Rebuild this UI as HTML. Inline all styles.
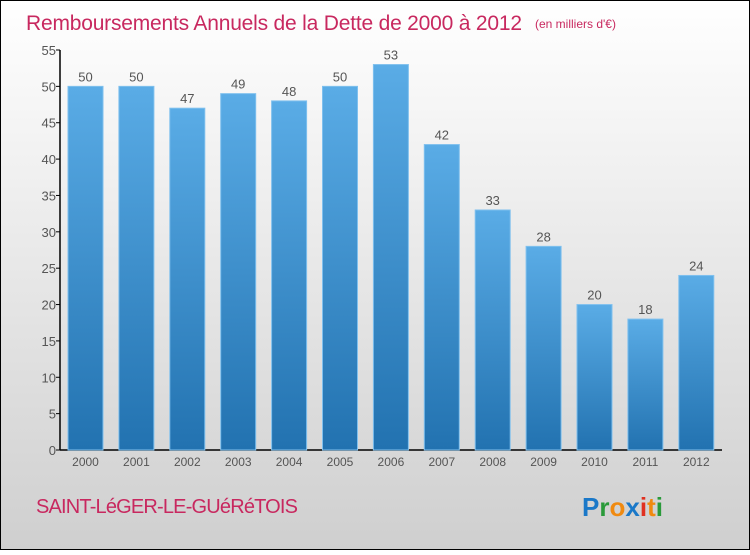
<!DOCTYPE html>
<html><head><meta charset="utf-8"><style>
body{margin:0;}
#wrap{width:750px;height:550px;position:relative;}
svg text{font-family:"Liberation Sans",sans-serif;}
</style></head><body>
<div id="wrap">
<svg id="chart" width="750" height="550" viewBox="0 0 750 550">
<defs>
<linearGradient id="bg" x1="0" y1="0" x2="0" y2="1"><stop offset="0" stop-color="#ffffff"/><stop offset="1" stop-color="#cfcfcf"/></linearGradient>
<linearGradient id="bar" x1="0" y1="0" x2="0" y2="1"><stop offset="0" stop-color="#5aace6"/><stop offset="1" stop-color="#2272b0"/></linearGradient>
</defs>
<rect x="0.5" y="0.5" width="749" height="549" fill="url(#bg)" stroke="#000"/>
<text x="26" y="30" font-size="21" fill="#c8285f" textLength="496">Remboursements Annuels de la Dette de 2000 à 2012</text>
<text x="535" y="28" font-size="12" fill="#c8285f">(en milliers d'€)</text>
<text x="36" y="513" font-size="20" fill="#c8285f" textLength="262">SAINT-LéGER-LE-GUéRéTOIS</text>
<g font-size="26" font-weight="bold">
<text x="582" y="516"><tspan fill="#1a78c8">P</tspan><tspan fill="#2a9a3a">r</tspan><tspan fill="#f08a10">o</tspan><tspan fill="#1a78c8">x</tspan><tspan fill="#e03020">i</tspan><tspan fill="#f08a10">t</tspan><tspan fill="#2a9a3a">i</tspan></text>
</g>
<g id="axes"></g>
<g id="bars"></g>
</svg>
</div>
<script>
const years=["2000","2001","2002","2003","2004","2005","2006","2007","2008","2009","2010","2011","2012"];
const values=[50,50,47,49,48,50,53,42,33,28,20,18,24];
const yTicks=[0,5,10,15,20,25,30,35,40,45,50,55];
const NS="http://www.w3.org/2000/svg";
const x0=60,x1=722,y0=450,unit=(450-50)/55,bw=35,step=50.9,first=85.5;
function y(v){return y0-v*unit;}
function xc(i){return first+i*step;}
function mk(tag,attrs,parent,txt){const e=document.createElementNS(NS,tag);for(const k in attrs)e.setAttribute(k,attrs[k]);if(txt!==undefined)e.textContent=txt;parent.appendChild(e);return e;}
const axes=document.getElementById('axes'),bars=document.getElementById('bars');
const ya=mk('line',{x1:x0,y1:y(55),x2:x0,y2:y0,stroke:'#000','stroke-width':1.5},axes);


const xa=mk('line',{x1:x0,y1:y0,x2:x1,y2:y0,stroke:'#000','stroke-width':1.5},axes);


yTicks.forEach(t=>{
  const tk=mk('line',{x1:x0-4,y1:y(t),x2:x0,y2:y(t),stroke:'#000'},axes);
  
  
  const tl=mk('text',{x:x0-4,y:y(t)+5,'font-size':13,fill:'#555','text-anchor':'end'},axes,t);
  
  
});
years.forEach((yr,i)=>{
  const v=values[i];
  const r=mk('rect',{x:xc(i)-bw/2,y:y(v),width:bw,height:y0-y(v),fill:'url(#bar)',stroke:'#7fc0ee','stroke-width':1},bars);
  
  
  const vl=mk('text',{x:xc(i),y:y(v)-5,'font-size':13,fill:'#555','text-anchor':'middle'},bars,v);
  
  
  const xl=mk('text',{x:xc(i),y:y0+16,'font-size':12,fill:'#555','text-anchor':'middle'},bars,yr);
  
  
});
</script>
</body></html>
